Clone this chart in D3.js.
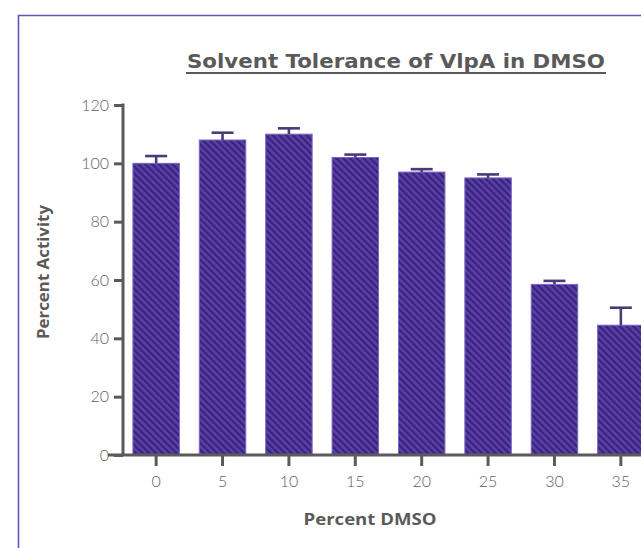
<!DOCTYPE html>
<html>
<head>
<meta charset="utf-8">
<script src="https://cdn.jsdelivr.net/npm/d3@7"></script>
<style>
  body { margin: 0; background: #fff; }
  svg { display: block; }
</style>
</head>
<body>
<svg width="641" height="548"></svg>
<script>
// chart data
const categories = ["0", "5", "10", "15", "20", "25", "30", "35"];
const activity = [100, 108, 110, 102, 97, 95, 58.5, 44.5];
const errors = [2.5, 2.5, 2, 1, 1, 1.2, 1.2, 6];
const yTicks = [0, 20, 40, 60, 80, 100, 120];

const svg = d3.select("svg");
const grey = "#5a5a5a";

// stripes for the bars
const defs = svg.append("defs");
const pat = defs.append("pattern")
    .attr("id", "stripes")
    .attr("patternUnits", "userSpaceOnUse")
    .attr("width", 4.8)
    .attr("height", 10)
    .attr("patternTransform", "rotate(-45)");
pat.append("rect").attr("width", 4.8).attr("height", 10).attr("fill", "#5b3fa8");
pat.append("rect").attr("width", 2.2).attr("height", 10).attr("fill", "#38237a");

// frame
svg.append("path")
    .attr("d", "M18.5,548 V15.5 H641")
    .attr("fill", "none")
    .attr("stroke", "#6352b8")
    .attr("stroke-width", 1.6);

const x = d3.scaleBand()
    .domain(categories)
    .range([113, 664])
    .paddingInner(0.3)
    .paddingOuter(0.3);

const y = d3.scaleLinear()
    .domain([0, 120])
    .range([455, 105]);

// bars
svg.append("g").selectAll("rect")
    .data(activity)
    .join("rect")
    .attr("x", (d, i) => x(categories[i]))
    .attr("y", d => y(d))
    .attr("width", x.bandwidth())
    .attr("height", d => y(0) - y(d))
    .attr("fill", "url(#stripes)")
    .attr("stroke", "#7868c4")
    .attr("stroke-width", 1);

// error bars (upper only)
const eb = svg.append("g")
    .attr("stroke", "#4a3a78")
    .attr("stroke-width", 2.6);
activity.forEach((d, i) => {
    const cx = x(categories[i]) + x.bandwidth() / 2;
    eb.append("line")
        .attr("x1", cx).attr("x2", cx)
        .attr("y1", y(d)).attr("y2", y(d + errors[i]));
    eb.append("line")
        .attr("x1", cx - 11).attr("x2", cx + 11)
        .attr("y1", y(d + errors[i])).attr("y2", y(d + errors[i]));
});

// y axis
const yAxis = svg.append("g")
    .attr("transform", "translate(123,0)")
    .call(d3.axisLeft(y).tickValues(yTicks).tickSize(9).tickPadding(5).tickSizeOuter(0));
yAxis.select(".domain").attr("stroke", grey).attr("stroke-width", 3)
    .attr("d", "M0," + (y(120) - 1.5) + "V" + y(0));
yAxis.selectAll(".tick line").attr("stroke", grey).attr("stroke-width", 3);
yAxis.selectAll(".tick text")
    .attr("fill", "#5e5e5e")
    .style("font", "300 16px Lato, 'DejaVu Sans', sans-serif");

// x axis
const xAxis = svg.append("g")
    .attr("transform", "translate(0,455)")
    .call(d3.axisBottom(x).tickSize(11).tickPadding(10).tickSizeOuter(0));
xAxis.select(".domain").attr("stroke", grey).attr("stroke-width", 3)
    .attr("d", "M108,0H641");
xAxis.selectAll(".tick line").attr("stroke", grey).attr("stroke-width", 3);
xAxis.selectAll(".tick text")
    .attr("fill", "#5e5e5e")
    .style("font", "300 16px Lato, 'DejaVu Sans', sans-serif");

// title
svg.append("text")
    .attr("x", 396)
    .attr("y", 68)
    .attr("text-anchor", "middle")
    .attr("fill", grey)
    .attr("textLength", 418)
    .attr("lengthAdjust", "spacingAndGlyphs")
    .style("font", "bold 19px 'DejaVu Sans', sans-serif")
    .text("Solvent Tolerance of VlpA in DMSO");
svg.append("line")
    .attr("x1", 186).attr("x2", 606)
    .attr("y1", 73).attr("y2", 73)
    .attr("stroke", grey)
    .attr("stroke-width", 2);

// axis titles
svg.append("text")
    .attr("transform", "translate(49,272) rotate(-90)")
    .attr("text-anchor", "middle")
    .attr("fill", grey)
    .attr("textLength", 134)
    .attr("lengthAdjust", "spacingAndGlyphs")
    .style("font", "bold 16px 'Open Sans', sans-serif")
    .text("Percent Activity");

svg.append("text")
    .attr("x", 370)
    .attr("y", 525)
    .attr("text-anchor", "middle")
    .attr("fill", grey)
    .attr("textLength", 133)
    .attr("lengthAdjust", "spacingAndGlyphs")
    .style("font", "bold 16px 'Open Sans', sans-serif")
    .text("Percent DMSO");
</script>
</body>
</html>
